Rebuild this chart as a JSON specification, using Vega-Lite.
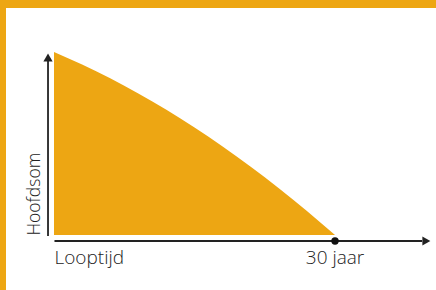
{
  "$schema": "https://vega.github.io/schema/vega-lite/v6.json",
  "width": 430,
  "height": 282,
  "autosize": {"type": "none"},
  "padding": {"left": 6, "top": 8, "right": 0, "bottom": 0},
  "background": "#EDA613",
  "view": {"fill": "white", "stroke": null},
  "config": {"text": {"font": "Open Sans", "fontSize": 19, "fontWeight": 300, "color": "#222222"}},
  "encoding": {
    "x": {"field": "t", "type": "quantitative", "scale": {"domain": [-5.125, 40.78], "nice": false, "zero": false}, "axis": null},
    "y": {"field": "v", "type": "quantitative", "scale": {"domain": [-30.05, 124.04], "nice": false, "zero": false}, "axis": null}
  },
  "layer": [
    {
      "data": {"values": [
        {"t": 0, "v": 100}, {"t": 3, "v": 93.1}, {"t": 6, "v": 85.6}, {"t": 9, "v": 77.3},
        {"t": 12, "v": 68.4}, {"t": 15, "v": 58.7}, {"t": 18, "v": 48.3}, {"t": 21, "v": 37.3},
        {"t": 24, "v": 25.6}, {"t": 27, "v": 13.1}, {"t": 30, "v": 0}
      ]},
      "mark": {"type": "area", "color": "#EDA613", "interpolate": "monotone"},
      "encoding": {"y2": {"datum": 0}}
    },
    {
      "data": {"values": [{"t": -0.64, "v": -0.5}, {"t": -0.64, "v": 96}]},
      "mark": {"type": "line", "color": "#222222", "strokeWidth": 1.8},
      "encoding": {}
    },
    {
      "data": {"values": [{"t": -0.64, "v": 97}]},
      "mark": {"type": "point", "shape": "triangle-up", "filled": true, "color": "#222222", "size": 85, "opacity": 1},
      "encoding": {}
    },
    {
      "data": {"values": [{"t": 0.05, "v": -3.28}, {"t": 39.3, "v": -3.28}]},
      "mark": {"type": "line", "color": "#222222", "strokeWidth": 1.8},
      "encoding": {}
    },
    {
      "data": {"values": [{"t": 39.75, "v": -3.28}]},
      "mark": {"type": "point", "shape": "triangle-right", "filled": true, "color": "#222222", "size": 85, "opacity": 1},
      "encoding": {}
    },
    {
      "data": {"values": [{"t": 30, "v": -3.28}]},
      "mark": {"type": "point", "shape": "circle", "filled": true, "color": "#111111", "size": 55, "opacity": 1},
      "encoding": {}
    },
    {
      "data": {"values": [{"t": 0.05, "v": -12.4, "label": "Looptijd"}]},
      "mark": {"type": "text", "align": "left", "baseline": "middle"},
      "encoding": {"text": {"field": "label"}}
    },
    {
      "data": {"values": [{"t": 30, "v": -12.4, "label": "30 jaar"}]},
      "mark": {"type": "text", "align": "center", "baseline": "middle"},
      "encoding": {"text": {"field": "label"}}
    },
    {
      "data": {"values": [{"t": -2.05, "v": -0.3, "label": "Hoofdsom"}]},
      "mark": {"type": "text", "align": "left", "baseline": "middle", "angle": 270, "fontSize": 17.5},
      "encoding": {"text": {"field": "label"}}
    }
  ]
}
